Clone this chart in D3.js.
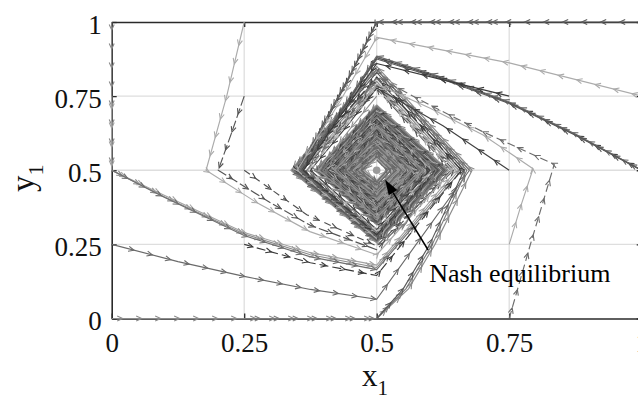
<!DOCTYPE html>
<html><head><meta charset="utf-8">
<script src="https://cdn.jsdelivr.net/npm/d3@7"></script>
<style>body{margin:0;background:#fff} svg{display:block}</style>
</head><body><svg id="c" width="638" height="401"></svg>
<script>
// ---- axes data ----
const xTicks = [0, 0.25, 0.5, 0.75, 1];
const yTicks = [0, 0.25, 0.5, 0.75, 1];
const xTickLabels = ["0", "0.25", "0.5", "0.75", "1"];
const yTickLabels = ["0", "0.25", "0.5", "0.75", "1"];
const xLabel = "x", xLabelSub = "1";
const yLabel = "y", yLabelSub = "1";
const nash = [0.5, 0.5];
const annotText = "Nash equilibrium";
const annotAt = [0.599, 0.123];
const annotFrom = [0.597, 0.231];
const annotTo = [0.516, 0.468];

// ---- trajectories: start path (x,y) then successive crossings of x=0.5 / y=0.5 ----
const path_0_1 = [[0,1],[0,0.75],[0,0.5],[0.1,0.41],[0.25,0.285],[0.375,0.215],[0.5,0.172]];
const spin_0_1 = [0.655,0.80,0.35,0.272,0.62,0.70,0.393,0.333,0.59,0.655,0.418,0.368,0.57,0.62,0.438,0.398,0.553,0.59,0.455,0.425,0.54,0.565,0.466,0.445];
const path_0_075 = [[0,0.75],[0,0.5],[0.1,0.415],[0.25,0.29],[0.375,0.222],[0.5,0.18]];
const spin_0_075 = [0.65,0.79,0.355,0.28,0.615,0.69,0.398,0.34,0.586,0.648,0.422,0.374,0.566,0.615,0.441,0.403,0.55,0.586,0.457,0.43,0.538,0.562];
const path_0_05 = [[0,0.5],[0.1,0.408],[0.25,0.28],[0.375,0.208],[0.5,0.165]];
const spin_0_05 = [0.66,0.81,0.347,0.268,0.625,0.705,0.39,0.328,0.594,0.66,0.415,0.364,0.573,0.625,0.435,0.395,0.556,0.594,0.452,0.42,0.542,0.57,0.463,0.44,0.533,0.552];
const path_0_025 = [[0,0.25],[0.125,0.192],[0.25,0.142],[0.375,0.098],[0.5,0.065]];
const spin_0_025 = [0.675,0.84,0.34,0.258,0.632,0.715,0.385,0.32,0.6,0.667,0.41,0.358,0.577,0.63,0.432,0.39,0.558,0.598,0.45,0.417,0.544,0.573];
const path_0_0 = [[0,0],[0.25,0],[0.5,0],[0.56,0.1],[0.61,0.25],[0.68,0.5]];
const spin_0_0 = [0.85,0.338,0.255,0.635,0.72,0.383,0.316,0.602,0.67,0.408,0.355,0.579,0.633,0.43,0.388,0.56,0.6,0.448,0.415,0.545];
const path_025_0 = [[0.25,0],[0.5,0],[0.555,0.1],[0.605,0.25],[0.67,0.5]];
const spin_025_0 = [0.84,0.342,0.26,0.63,0.715,0.386,0.32,0.6,0.665,0.41,0.36,0.577,0.63,0.432,0.392,0.558,0.598,0.45];
const path_05_0 = [[0.5,0],[0.55,0.1],[0.6,0.25],[0.665,0.5]];
const spin_05_0 = [0.83,0.345,0.263,0.628,0.71,0.388,0.324,0.597,0.662,0.413,0.362,0.575,0.627,0.434,0.394,0.557,0.596,0.451,0.42,0.543,0.57,0.463];
const path_025_025 = [[0.25,0.25],[0.375,0.188],[0.5,0.145]];
const spin_025_025 = [0.66,0.815,0.348,0.27,0.623,0.703,0.392,0.33,0.592,0.658,0.416,0.366,0.572,0.622,0.437,0.397,0.555,0.592,0.453,0.423];
const path_025_05 = [[0.25,0.5],[0.368,0.35],[0.5,0.245]];
const spin_025_05 = [0.645,0.785,0.357,0.283,0.613,0.688,0.4,0.343,0.584,0.645,0.424,0.376,0.565,0.612,0.442,0.405,0.549,0.584,0.458,0.432];
const path_025_075 = [[0.25,0.75],[0.226,0.625],[0.201,0.5],[0.3,0.39],[0.374,0.315],[0.5,0.232]];
const spin_025_075 = [0.64,0.775,0.36,0.287,0.61,0.683,0.402,0.347,0.582,0.642,0.426,0.379,0.563,0.61,0.444,0.408,0.548,0.582];
const path_025_1 = [[0.25,1],[0.217,0.75],[0.178,0.5],[0.27,0.395],[0.374,0.293],[0.5,0.215]];
const spin_025_1 = [0.642,0.78,0.358,0.285,0.612,0.686,0.401,0.345,0.583,0.643,0.425,0.378,0.564,0.611,0.443,0.407];
const path_05_1 = [[0.5,1],[0.445,0.8],[0.4,0.65],[0.36,0.5]];
const spin_05_1 = [0.28,0.615,0.69,0.398,0.34,0.587,0.65,0.421,0.373,0.567,0.616,0.44,0.402,0.55,0.587,0.456,0.428,0.538];
const path_075_1 = [[0.75,1],[0.5,1],[0.45,0.82],[0.4,0.66],[0.355,0.5]];
const spin_075_1 = [0.275,0.618,0.695,0.395,0.336,0.589,0.652,0.419,0.37,0.568,0.618,0.439,0.4,0.551,0.588,0.455];
const path_1_1 = [[1,1],[0.75,1],[0.5,1],[0.452,0.83],[0.402,0.665],[0.352,0.5]];
const spin_1_1 = [0.272,0.62,0.698,0.393,0.334,0.59,0.654,0.418,0.369,0.569,0.62,0.438,0.399,0.552,0.589,0.455,0.427,0.539];
const path_1_075 = [[1,0.75],[0.75,0.862],[0.5,0.948],[0.43,0.73],[0.35,0.5]];
const spin_1_075 = [0.27,0.622,0.7,0.392,0.333,0.592,0.656,0.417,0.367,0.57,0.621];
const path_1_05 = [[1,0.5],[0.875,0.62],[0.75,0.728],[0.625,0.81],[0.5,0.88],[0.43,0.69],[0.358,0.5]];
const spin_1_05 = [0.278,0.617,0.692,0.396,0.338,0.588,0.651,0.42,0.372,0.567,0.617,0.44,0.401,0.551];
const path_1_025 = [[1,0.25],[1,0.5],[0.875,0.622],[0.75,0.73],[0.625,0.813],[0.5,0.885],[0.43,0.695],[0.356,0.5]];
const spin_1_025 = [0.276,0.619,0.694,0.394,0.336,0.589,0.653,0.419,0.371,0.568,0.619,0.439,0.4,0.552,0.588,0.455];
const path_1_0 = [[1,0],[1,0.25],[1,0.5],[0.875,0.618],[0.75,0.725],[0.625,0.806],[0.5,0.875],[0.43,0.69],[0.36,0.5]];
const spin_1_0 = [0.281,0.614,0.689,0.399,0.341,0.586,0.648,0.422,0.374,0.566,0.615,0.441,0.403,0.55,0.586,0.457,0.43,0.54];
const path_075_075 = [[0.75,0.75],[0.625,0.805],[0.5,0.86],[0.43,0.68],[0.362,0.5]];
const spin_075_075 = [0.283,0.612,0.686,0.4,0.343,0.585,0.646,0.423,0.375,0.565,0.614,0.442,0.404,0.549];
const path_075_05 = [[0.75,0.5],[0.625,0.65],[0.5,0.777],[0.44,0.64],[0.375,0.5]];
const spin_075_05 = [0.3,0.6,0.672,0.408,0.352,0.58,0.638,0.428,0.382,0.562,0.608,0.445,0.41,0.547,0.58,0.46];
const path_075_025 = [[0.75,0.25],[0.772,0.38],[0.795,0.505],[0.70,0.62],[0.6,0.71],[0.5,0.79],[0.44,0.65],[0.37,0.5]];
const spin_075_025 = [0.292,0.605,0.678,0.405,0.348,0.582,0.642,0.426,0.379,0.563,0.61,0.444,0.407,0.548];
const path_075_0 = [[0.75,0],[0.79,0.25],[0.835,0.52],[0.7,0.63],[0.6,0.72],[0.5,0.815],[0.44,0.66],[0.368,0.5]];
const spin_075_0 = [0.289,0.607,0.68,0.404,0.346,0.583,0.644,0.425,0.377,0.564,0.612,0.443,0.406,0.549,0.584,0.458];
const path_05_025 = [[0.5,0.25],[0.555,0.32],[0.612,0.5]];
const spin_05_025 = [0.69,0.398,0.34,0.586,0.648,0.42,0.372,0.566,0.614,0.44,0.402,0.55,0.586,0.456];
const path_05_075 = [[0.5,0.75],[0.45,0.64],[0.39,0.5]];
const spin_05_075 = [0.34,0.588,0.65,0.421,0.372,0.567,0.615,0.44,0.402,0.55,0.587,0.456,0.43,0.54];
const path_core1 = [[0.443,0.5]];
const spin_core1 = [0.406,0.549,0.581,0.458,0.431,0.536,0.559,0.469,0.449,0.526,0.544,0.477,0.462,0.52,0.534];
const path_core2 = [[0.5,0.395]];
const spin_core2 = [0.555,0.6,0.44,0.42,0.543,0.573,0.455,0.44,0.533,0.553,0.466,0.455,0.524,0.54,0.475,0.466,0.518];
const path_core3 = [[0.562,0.5]];
const spin_core3 = [0.61,0.44,0.41,0.547,0.58,0.452,0.435,0.536,0.56,0.463,0.45,0.527,0.547,0.471,0.46,0.52,0.536];

// styles (separate from data)
const series = [
  {p: path_0_1, s: spin_0_1, c: "#8a8a8a"},
  {p: path_0_075, s: spin_0_075, c: "#a2a2a2"},
  {p: path_0_05, s: spin_0_05, c: "#6e6e6e"},
  {p: path_0_025, s: spin_0_025, c: "#6a6a6a"},
  {p: path_0_0, s: spin_0_0, c: "#8c8c8c"},
  {p: path_025_0, s: spin_025_0, c: "#7a7a7a"},
  {p: path_05_0, s: spin_05_0, c: "#5a5a5a"},
  {p: path_025_025, s: spin_025_025, c: "#3a3a3a", d: "9,4"},
  {p: path_025_05, s: spin_025_05, c: "#505050", d: "7,5"},
  {p: path_025_075, s: spin_025_075, c: "#555555", d: "10,3"},
  {p: path_025_1, s: spin_025_1, c: "#ababab"},
  {p: path_05_1, s: spin_05_1, c: "#4a4a4a"},
  {p: path_075_1, s: spin_075_1, c: "#6a6a6a"},
  {p: path_1_1, s: spin_1_1, c: "#5c5c5c"},
  {p: path_1_075, s: spin_1_075, c: "#ababab"},
  {p: path_1_05, s: spin_1_05, c: "#464646"},
  {p: path_1_025, s: spin_1_025, c: "#6a6a6a"},
  {p: path_1_0, s: spin_1_0, c: "#585858"},
  {p: path_075_075, s: spin_075_075, c: "#3a3a3a"},
  {p: path_075_05, s: spin_075_05, c: "#404040"},
  {p: path_075_025, s: spin_075_025, c: "#ababab"},
  {p: path_075_0, s: spin_075_0, c: "#6c6c6c", d: "8,4"},
  {p: path_05_025, s: spin_05_025, c: "#7c7c7c"},
  {p: path_05_075, s: spin_05_075, c: "#909090"},
  {p: path_core1, s: spin_core1, c: "#8a8a8a"},
  {p: path_core2, s: spin_core2, c: "#9a9a9a"},
  {p: path_core3, s: spin_core3, c: "#6a6a6a"}
];

const svg = d3.select("#c");
const FONT = "'Liberation Serif','Times New Roman',Times,serif";
const x = d3.scaleLinear().domain([0, 1]).range([111.7, 641.7]);
const y = d3.scaleLinear().domain([0, 1]).range([318.5, 22]);

// grid
const g = svg.append("g");
g.selectAll("line.gx").data(xTicks.slice(1, -1)).join("line")
  .attr("x1", d => x(d)).attr("x2", d => x(d)).attr("y1", y(0)).attr("y2", y(1))
  .attr("stroke", "#dedede").attr("stroke-width", 1.3);
g.selectAll("line.gy").data(yTicks.slice(1, -1)).join("line")
  .attr("y1", d => y(d)).attr("y2", d => y(d)).attr("x1", x(0)).attr("x2", x(1))
  .attr("stroke", "#dedede").attr("stroke-width", 1.3);

// axes
function styleAxis(sel) {
  sel.selectAll("path.domain").attr("stroke", "#2a2a2a").attr("stroke-width", 1.6);
  sel.selectAll(".tick line").attr("stroke", "#2a2a2a").attr("stroke-width", 1.3);
  sel.selectAll("text").attr("font-family", FONT).attr("font-size", 27).attr("fill", "#111");
}
const ax = svg.append("g").attr("transform", `translate(0,${y(0)})`)
  .call(d3.axisBottom(x).tickValues(xTicks).tickFormat((d, i) => xTickLabels[i]).tickSizeInner(-5).tickSizeOuter(0).tickPadding(14));
styleAxis(ax);
const ay = svg.append("g").attr("transform", `translate(${x(0)},0)`)
  .call(d3.axisLeft(y).tickValues(yTicks).tickFormat((d, i) => yTickLabels[i]).tickSizeInner(-5).tickSizeOuter(0).tickPadding(10));
styleAxis(ay);
ay.selectAll("text").attr("dy", "0.42em");
const at = svg.append("g").attr("transform", `translate(0,${y(1)})`)
  .call(d3.axisTop(x).tickValues(xTicks).tickFormat("").tickSizeInner(-5).tickSizeOuter(0));
styleAxis(at);
const ar = svg.append("g").attr("transform", `translate(${x(1)},0)`)
  .call(d3.axisRight(y).tickValues(yTicks).tickFormat("").tickSizeInner(-5).tickSizeOuter(0));
styleAxis(ar);

// axis labels
const xl = svg.append("text").attr("x", 362).attr("y", 386).attr("font-family", FONT).attr("font-size", 31).attr("fill", "#111");
xl.append("tspan").text(xLabel);
xl.append("tspan").attr("font-size", 21).attr("dy", 9).text(xLabelSub);
const yl = svg.append("text").attr("transform", "translate(34,192) rotate(-90)").attr("font-family", FONT).attr("font-size", 33).attr("fill", "#111");
yl.append("tspan").text(yLabel);
yl.append("tspan").attr("font-size", 22).attr("dy", 9).text(yLabelSub);

// trajectories
function expand(path, spin) {
  const pts = path.map(p => p.slice());
  const last = pts[pts.length - 1];
  let state;
  if (Math.abs(last[0] - 0.5) < 1e-9) state = last[1] < 0.5 ? "b" : "t";
  else state = last[0] > 0.5 ? "r" : "l";
  const next = {b: "r", r: "t", t: "l", l: "b"};
  for (const v of spin) {
    state = next[state];
    pts.push(state === "b" || state === "t" ? [0.5, v] : [v, 0.5]);
  }
  return pts;
}
const line = d3.line().x(d => x(d[0])).y(d => y(d[1]));
const tg = svg.append("g").attr("fill", "none");
series.forEach((sr, k) => {
  const pts = expand(sr.p, sr.s);
  const pe = tg.append("path").attr("d", line(pts)).attr("stroke", sr.c)
    .attr("stroke-width", 1.15).attr("stroke-linejoin", "round");
  if (sr.d) pe.attr("stroke-dasharray", sr.d);
  const node = pe.node();
  const total = node.getTotalLength();
  let dstr = "";
  const step = 19, L = 5.5, W = 2.5;
  for (let l = 8 + (k * 5) % 17; l < total; l += step) {
    const p = node.getPointAtLength(l), q = node.getPointAtLength(Math.max(0, l - 2));
    const a = Math.atan2(p.y - q.y, p.x - q.x);
    const ca = Math.cos(a), sa = Math.sin(a);
    const bx = p.x - L * ca, by = p.y - L * sa;
    dstr += `M${(bx - W * sa).toFixed(1)},${(by + W * ca).toFixed(1)}L${p.x.toFixed(1)},${p.y.toFixed(1)}L${(bx + W * sa).toFixed(1)},${(by - W * ca).toFixed(1)}`;
  }
  tg.append("path").attr("d", dstr).attr("stroke", sr.c).attr("stroke-width", 1.1);
});

// Nash point
svg.append("circle").attr("cx", x(nash[0])).attr("cy", y(nash[1])).attr("r", 3.8).attr("fill", "#9a9a9a");

// annotation
const ax1 = x(annotFrom[0]), ay1 = y(annotFrom[1]), ax2 = x(annotTo[0]), ay2 = y(annotTo[1]);
const ang = Math.atan2(ay2 - ay1, ax2 - ax1);
const hl = 15, hw = 5;
const hbx = ax2 - hl * Math.cos(ang), hby = ay2 - hl * Math.sin(ang);
svg.append("line").attr("x1", ax1).attr("y1", ay1).attr("x2", hbx).attr("y2", hby)
  .attr("stroke", "#000").attr("stroke-width", 1.5);
svg.append("path").attr("d", `M${ax2},${ay2}L${hbx - hw * Math.sin(ang)},${hby + hw * Math.cos(ang)}L${hbx + hw * Math.sin(ang)},${hby - hw * Math.cos(ang)}Z`)
  .attr("fill", "#000");
svg.append("text").attr("x", x(annotAt[0])).attr("y", y(annotAt[1])).attr("font-family", FONT)
  .attr("font-size", 26).attr("fill", "#000").text(annotText);
</script></body></html>
